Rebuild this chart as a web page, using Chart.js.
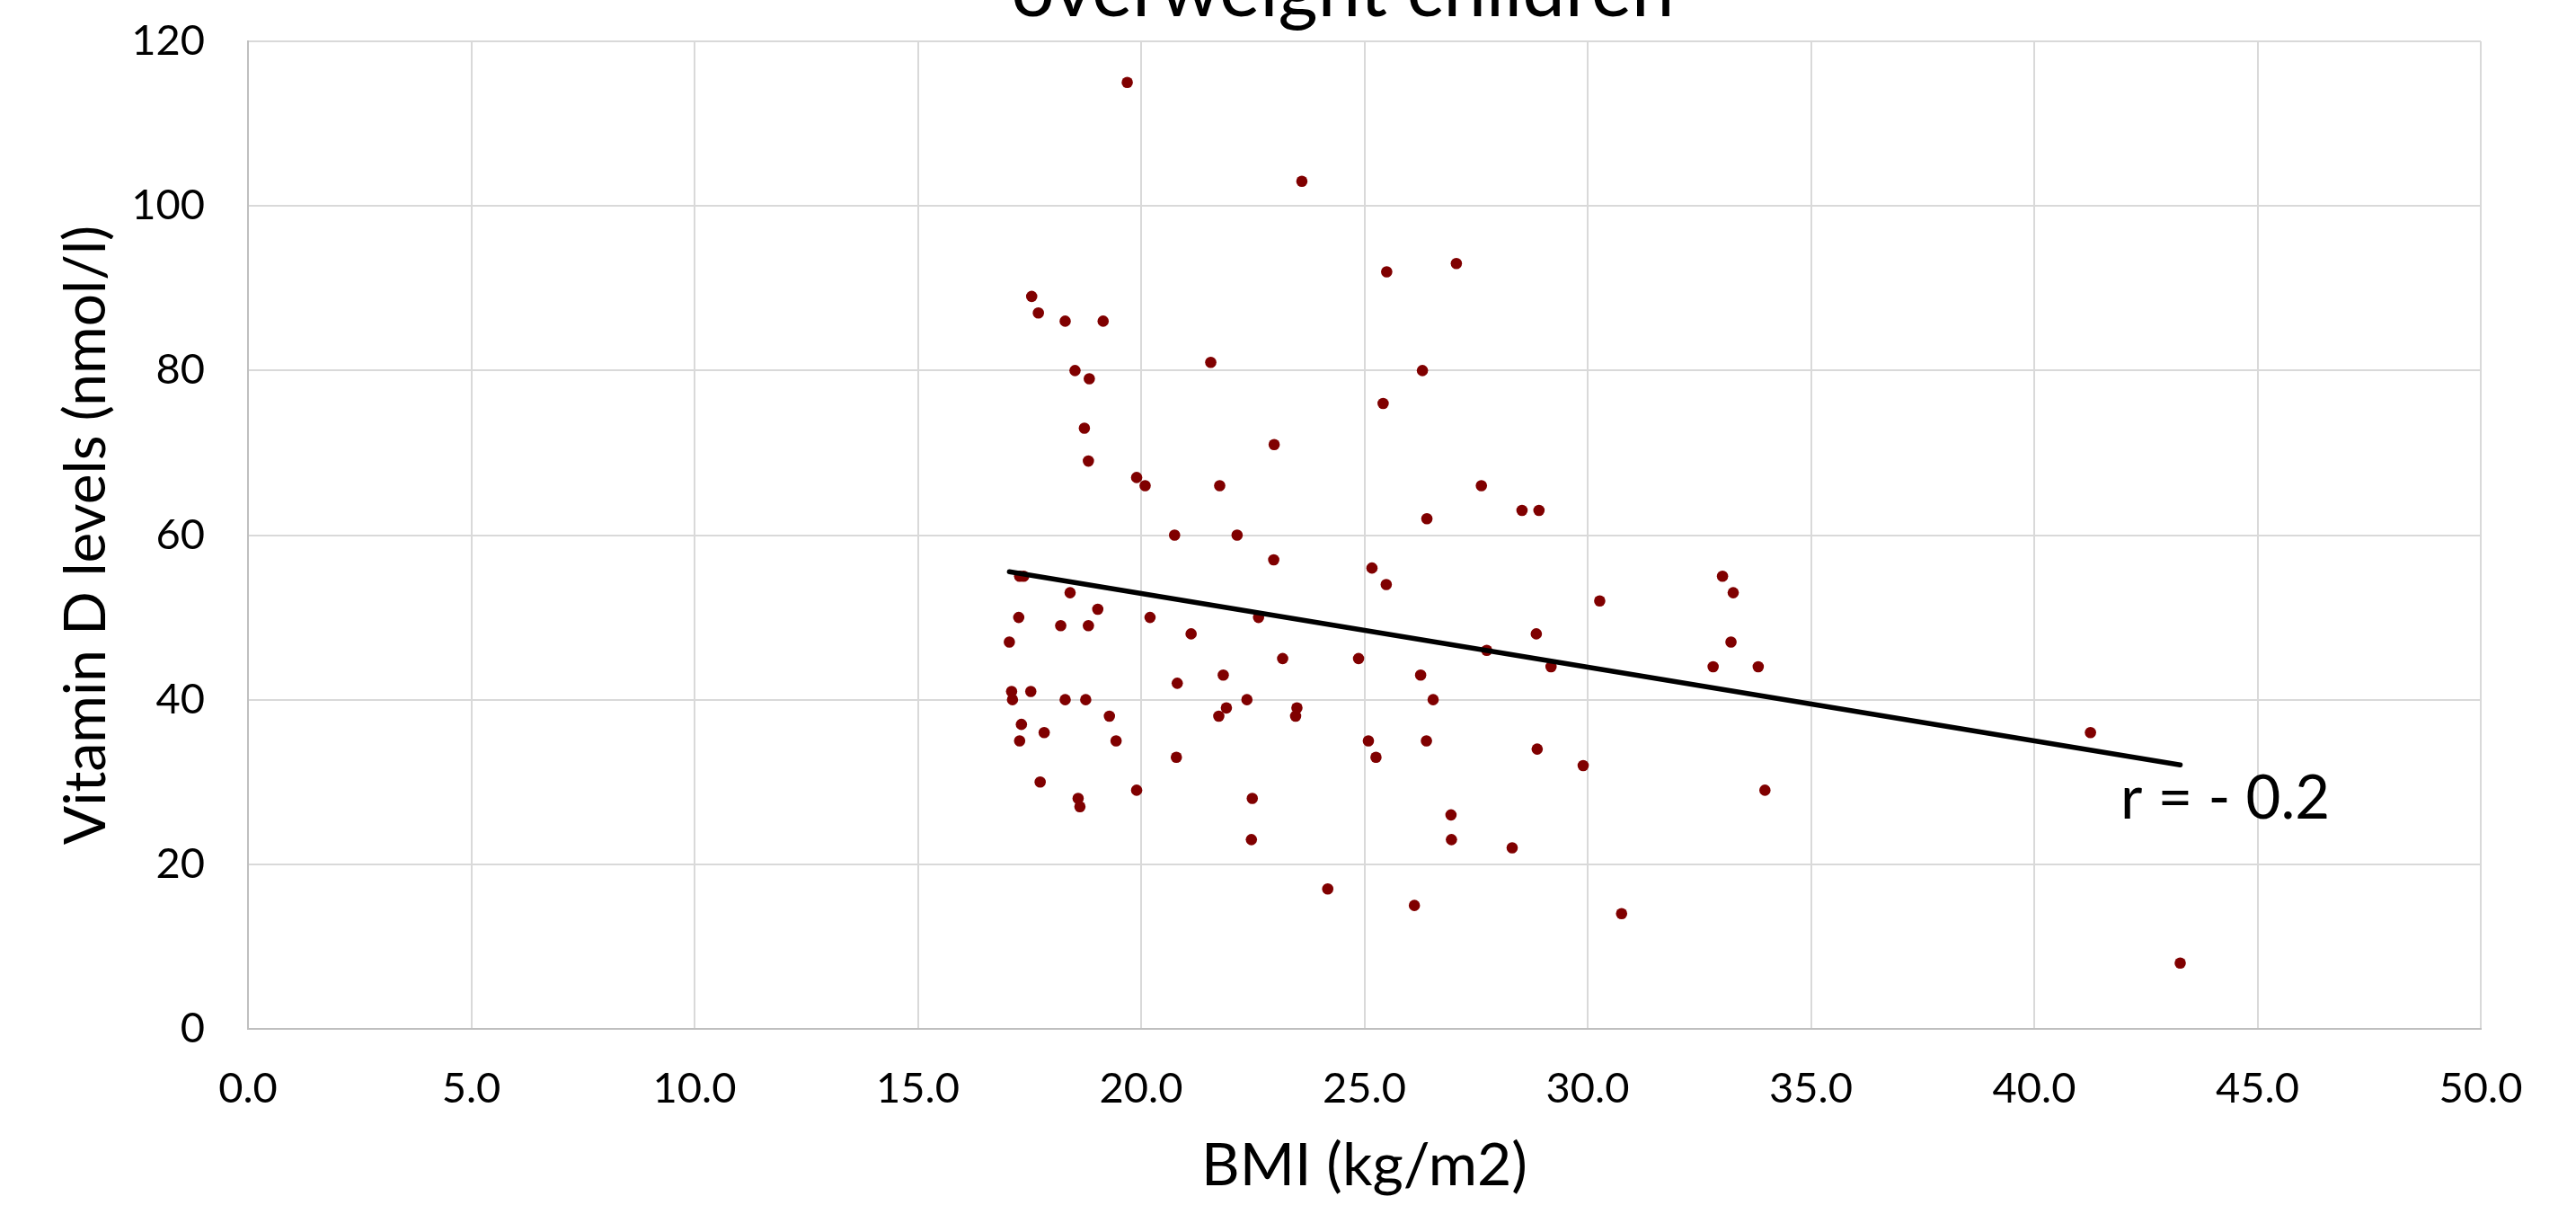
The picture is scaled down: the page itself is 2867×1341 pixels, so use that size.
<!DOCTYPE html>
<html><head><meta charset="utf-8">
<script src="https://cdn.jsdelivr.net/npm/chart.js@4.4.0/dist/chart.umd.min.js"></script>
<style>html,body{margin:0;padding:0;background:#fff;overflow:hidden}#wrap{width:2867px;height:1341px;position:relative}canvas{display:block}</style>
</head><body><div id="wrap"><canvas id="c" width="2867" height="1341"></canvas></div>
<script>
const bmi = [17.55,17.70,18.30,19.15,21.56,18.52,18.84,18.73,18.82,19.90,20.09,21.76,22.98,20.75,22.15,22.97,25.50,27.06,26.30,25.42,27.62,26.40,28.53,28.91,25.17,25.49,17.28,17.37,18.41,17.26,19.03,18.20,18.82,17.05,20.20,21.12,22.63,23.17,24.87,28.85,27.74,29.18,26.26,20.81,21.84,17.10,17.53,17.12,18.30,18.76,22.37,26.54,21.91,23.49,19.29,21.74,23.46,17.32,17.83,17.28,19.44,25.09,26.39,28.87,20.79,25.26,17.74,19.90,18.59,18.63,22.49,26.94,22.47,26.95,28.31,24.18,19.69,23.60,26.12,30.76,30.27,33.02,33.26,33.21,32.81,33.82,29.90,33.97,41.26,43.27];
const vitaminD = [89,87,86,86,81,80,79,73,69,67,66,66,71,60,60,57,92,93,80,76,66,62,63,63,56,54,55,55,53,50,51,49,49,47,50,48,50,45,45,48,46,44,43,42,43,41,41,40,40,40,40,40,39,39,38,38,38,37,36,35,35,35,35,34,33,33,30,29,28,27,28,26,23,23,22,17,115,103,15,14,52,55,53,47,44,44,32,29,36,8];
const trendBmi = [17.05, 43.27];
const trendVitaminD = [55.56, 32.07];
const xTickLabels = ['0.0','5.0','10.0','15.0','20.0','25.0','30.0','35.0','40.0','45.0','50.0'];
const yTickLabels = ['0','20','40','60','80','100','120'];
const titleText = 'overweight children';
const xTitleText = 'BMI (kg/m2)';
const yTitleText = 'Vitamin D levels (nmol/l)';
const corrText = 'r = - 0.2';

const FONT = 'Lato, "Open Sans", sans-serif';

const extraText = {
  id: 'extraText',
  afterDraw(chart) {
    const ctx = chart.ctx;
    const xs = chart.scales.x, ys = chart.scales.y;
    ctx.save();
    ctx.fillStyle = '#000';
    ctx.font = '85px ' + FONT;
    ctx.textAlign = 'center';
    ctx.textBaseline = 'alphabetic';
    const ca = chart.chartArea;
    ctx.fillText(titleText, (ca.left + ca.right) / 2 - 24, 18);
    ctx.font = '67px ' + FONT;
    ctx.textAlign = 'left';
    ctx.fillText(corrText, xs.getPixelForValue(41.93), ys.getPixelForValue(25.6));
    ctx.restore();
  }
};

const points = bmi.map((b, i) => ({x: b, y: vitaminD[i]}));
const trend = trendBmi.map((b, i) => ({x: b, y: trendVitaminD[i]}));

new Chart(document.getElementById('c'), {
  type: 'scatter',
  data: {
    datasets: [
      {
        label: 'Trend',
        data: trend,
        showLine: true,
        borderColor: '#000',
        borderWidth: 5.5,
        borderCapStyle: 'round',
        pointRadius: 0,
        order: 0
      },
      {
        label: 'Vitamin D',
        data: points,
        backgroundColor: '#800000',
        borderColor: '#800000',
        borderWidth: 0,
        pointRadius: 6.3,
        order: 1
      }
    ]
  },
  options: {
    responsive: false,
    animation: false,
    devicePixelRatio: 1,
    layout: { padding: { left: 0, right: 106, top: 46, bottom: 0 } },
    plugins: { legend: { display: false }, tooltip: { enabled: false }, title: { display: false } },
    scales: {
      x: {
        type: 'linear', min: 0, max: 50,
        afterFit(s) { s.height = 196; s.paddingLeft = 0; s.paddingRight = 0; },
        ticks: {
          stepSize: 5, padding: 39, color: '#000',
          font: { family: FONT, size: 47 },
          callback: (v, i) => xTickLabels[i] !== undefined ? xTickLabels[i] : v.toFixed(1)
        },
        grid: { color: '#d9d9d9', lineWidth: 2, drawTicks: false },
        border: { color: '#bfbfbf', width: 2 },
        title: { display: true, text: xTitleText, color: '#000', font: { family: FONT, size: 66 }, padding: { top: 0, bottom: 4 } }
      },
      y: {
        type: 'linear', min: 0, max: 120,
        afterFit(s) { s.width = 276; s.paddingTop = 0; s.paddingBottom = 0; },
        ticks: {
          stepSize: 20, padding: 48, color: '#000',
          font: { family: FONT, size: 47 },
          callback: (v, i) => yTickLabels[i] !== undefined ? yTickLabels[i] : String(v)
        },
        grid: { color: '#d9d9d9', lineWidth: 2, drawTicks: false },
        border: { color: '#bfbfbf', width: 2 },
        title: { display: true, text: yTitleText, color: '#000', font: { family: FONT, size: 64 }, padding: { top: 58, bottom: 0 } }
      }
    }
  },
  plugins: [extraText]
});
</script>
</body></html>
